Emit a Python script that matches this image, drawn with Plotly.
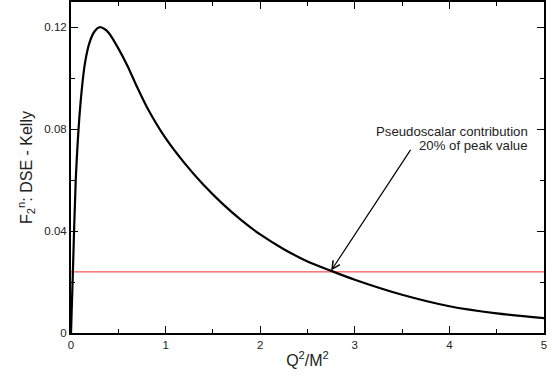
import plotly.graph_objects as go

# Data
q2 = [0, 0.02, 0.05, 0.1, 0.15, 0.2, 0.25, 0.3, 0.35, 0.4, 0.5, 0.6, 0.7, 0.8,
      1.0, 1.2, 1.4, 1.6, 1.8, 2.0, 2.25, 2.5, 2.75, 3.0, 3.5, 4.0, 4.5, 5.0]
f2n = [0, 0.024, 0.060, 0.090, 0.1065, 0.1145, 0.1185, 0.1201, 0.1195, 0.1178,
       0.1118, 0.1047, 0.0965, 0.0889, 0.0765, 0.0667, 0.0582, 0.0508, 0.0443,
       0.0387, 0.0329, 0.0281, 0.0244, 0.0209, 0.0150, 0.0105, 0.0077, 0.0058]
ref_x = [0, 5]
ref_y = [0.024, 0.024]

x_ticks = [0, 1, 2, 3, 4, 5]
x_ticklabels = ["0", "1", "2", "3", "4", "5"]
y_ticks = [0, 0.04, 0.08, 0.12]
y_ticklabels = ["0", "0.04", "0.08", "0.12"]

note_lines = ["Pseudoscalar contribution", "20% of peak value"]

FONT = "Liberation Sans, Arial, sans-serif"

fig = go.Figure()
fig.add_trace(go.Scatter(x=ref_x, y=ref_y, mode="lines",
                         line=dict(color="#ff2a2a", width=1), showlegend=False))
fig.add_trace(go.Scatter(x=q2, y=f2n, mode="lines",
                         line=dict(color="black", width=2.2, shape="spline", smoothing=0.6),
                         showlegend=False))

axis_common = dict(showgrid=False, zeroline=False, showline=True, linecolor="black",
                   linewidth=2, mirror="ticks", ticks="inside", ticklen=7,
                   tickwidth=1, tickcolor="black", automargin=False,
                   tickfont=dict(family=FONT, size=11.5, color="#222"))

fig.update_xaxes(range=[0, 5], tickmode="array", tickvals=x_ticks, ticktext=x_ticklabels,
                 minor=dict(dtick=0.5, tick0=0, ticks="inside", ticklen=4, tickcolor="black"),
                 title=dict(text="Q<sup>2</sup>/M<sup>2</sup>", standoff=5,
                            font=dict(family=FONT, size=16, color="#222")),
                 **axis_common)
fig.update_yaxes(range=[0, 0.13], tickmode="array", tickvals=y_ticks, ticktext=y_ticklabels,
                 minor=dict(dtick=0.02, tick0=0, ticks="inside", ticklen=4, tickcolor="black"),
                 title=dict(text="F<sub>2</sub><sup>n</sup>: DSE - Kelly", standoff=8,
                            font=dict(family=FONT, size=16, color="#222")),
                 **axis_common)

fig.add_annotation(x=2.75, y=0.0245, ax=3.6, ay=0.0725, xref="x", yref="y",
                   axref="x", ayref="y", text="", showarrow=True,
                   arrowhead=5, arrowsize=1.3, arrowwidth=1.2, arrowcolor="black")
fig.add_annotation(x=4.857, y=0.0793, xref="x", yref="y", xanchor="right",
                   yanchor="middle", showarrow=False, text=note_lines[0],
                   font=dict(family=FONT, size=13.2, color="#222"))
fig.add_annotation(x=4.847, y=0.0735, xref="x", yref="y", xanchor="right",
                   yanchor="middle", showarrow=False, text=note_lines[1],
                   font=dict(family=FONT, size=13.2, color="#222"))

fig.update_layout(width=552, height=381, plot_bgcolor="white", paper_bgcolor="white",
                  margin=dict(l=71, r=8, t=2, b=48))

fig.write_html("out.html", config={"displayModeBar": False},
               post_script="document.body.style.margin='0';document.body.style.overflow='hidden';")
